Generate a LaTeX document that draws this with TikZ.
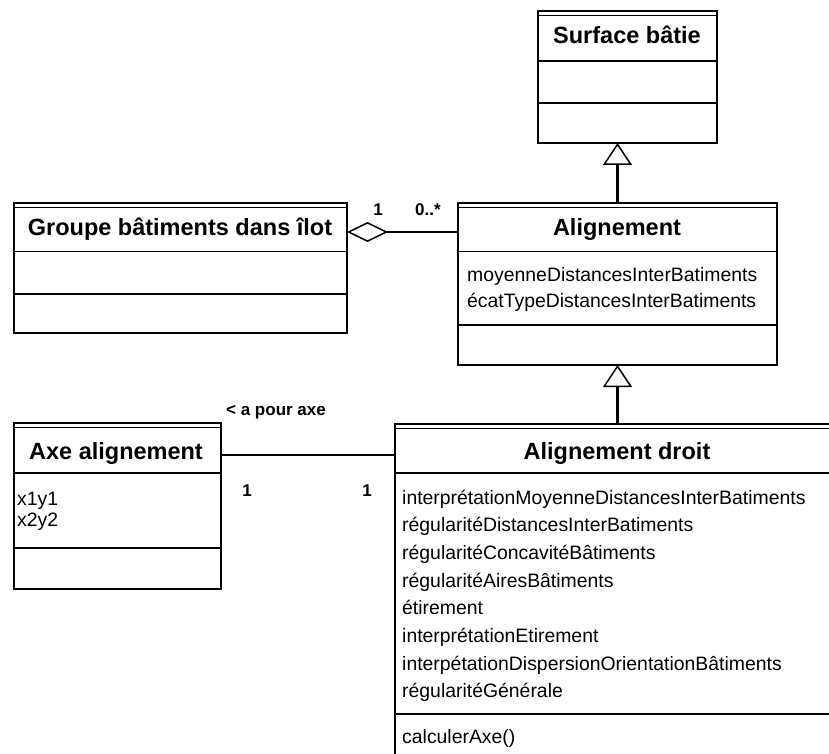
\documentclass[tikz,border=0pt]{standalone}
\usepackage{fontspec}
\setmainfont{Liberation Sans}
\usetikzlibrary{arrows.meta}

\begin{document}
\begin{tikzpicture}[x=1pt,y=-1pt,
		classbox/.style={draw,line width=2.6pt,inner sep=0pt,outer sep=0pt,anchor=north west},
		ctitle/.style={font=\fontsize{23.5}{28}\selectfont\bfseries,inner sep=0pt,anchor=base},
		attr/.style={font=\fontsize{19.4}{23}\selectfont,inner sep=0pt,anchor=base west},
		lbl/.style={font=\fontsize{17}{20}\selectfont\bfseries,inner sep=0pt,anchor=base},
		septhin/.style={line width=1pt},
		septhick/.style={line width=2pt},
		conn/.style={line width=2.5pt}]
		\useasboundingbox (0,0) rectangle (829,754);
		\clip (0,0) rectangle (829,754);
		\node[classbox,minimum width=179pt,minimum height=132pt] (surface) at (538,11) {};
		\node[classbox,minimum width=333pt,minimum height=130pt] (groupe) at (14,203) {};
		\node[classbox,minimum width=319pt,minimum height=162pt] (alignement) at (458,203) {};
		\node[classbox,minimum width=207pt,minimum height=166pt] (axe) at (14,423) {};
		\node[classbox,minimum width=446pt,minimum height=360pt] (droit) at (395,424) {};
		\foreach \cls in {surface,groupe,alignement,axe,droit}
			\draw[line width=0.8pt] ([yshift=-4pt]\cls.north west) -- ([yshift=-4pt]\cls.north east);
		\draw[septhick] (surface.west |- 0,61) -- (surface.east |- 0,61);
		\draw[septhick] (surface.west |- 0,103) -- (surface.east |- 0,103);
		\draw[septhin] (groupe.west |- 0,251) -- (groupe.east |- 0,251);
		\draw[septhick] (groupe.west |- 0,294) -- (groupe.east |- 0,294);
		\draw[septhin] (alignement.west |- 0,251) -- (alignement.east |- 0,251);
		\draw[septhick] (alignement.west |- 0,325) -- (alignement.east |- 0,325);
		\draw[septhick] (axe.west |- 0,473) -- (axe.east |- 0,473);
		\draw[septhick] (axe.west |- 0,548) -- (axe.east |- 0,548);
		\draw[septhick] (droit.west |- 0,473) -- (droit.east |- 0,473);
		\draw[septhick] (droit.west |- 0,714) -- (droit.east |- 0,714);
		\node[ctitle] (surfaceT) at (627,44) {Surface bâtie};
		\node[ctitle] (groupeT) at (180,235) {Groupe bâtiments dans îlot};
		\node[ctitle] (alignementT) at (617,235) {Alignement};
		\node[ctitle] (axeT) at (116,459) {Axe alignement};
		\node[ctitle] (droitT) at (617,459) {Alignement droit};
		\node[attr] (alignementA1) at (467,281) {moyenneDistancesInterBatiments};
		\node[attr] (alignementA2) at (467,307) {écatTypeDistancesInterBatiments};
		\node[attr] (axeA1) at (17,505) {x1y1};
		\node[attr] (axeA2) at (17,526) {x2y2};
		\foreach \attr [count=\i] in {interprétationMoyenneDistancesInterBatiments,
				régularitéDistancesInterBatiments,régularitéConcavitéBâtiments,
				régularitéAiresBâtiments,étirement,interprétationEtirement,
				interpétationDispersionOrientationBâtiments,régularitéGénérale}
			\node[attr] (droitA\i) at (402,{476.3+27.7*\i}) {\attr};
		\node[attr] (droitO1) at (402,743) {calculerAxe()};
		\draw[conn,-{Triangle[open,width=29pt,length=22pt,line width=1.5pt]}] (alignement.north) -- (alignement.north |- surface.south);
		\draw[conn,-{Triangle[open,width=29pt,length=22pt,line width=1.5pt]}] (droit.north -| alignement.south) -- (alignement.south);
		\draw[conn,{Diamond[open,width=20pt,length=41pt,line width=1.5pt]}-] (groupe.east |- 0,232) -- (alignement.west |- 0,232);
		\draw[conn] (axe.east |- 0,455) -- (droit.west |- 0,455);
		\node[lbl] (groupeM) at (378,215) {1};
		\node[lbl] (alignementM) at (428,215) {0..*};
		\node[lbl] (axeR) at (276,415) {< a pour axe};
		\node[lbl] (axeM) at (247,496) {1};
		\node[lbl] (droitM) at (367,496) {1};
	\end{tikzpicture}
\end{document}
